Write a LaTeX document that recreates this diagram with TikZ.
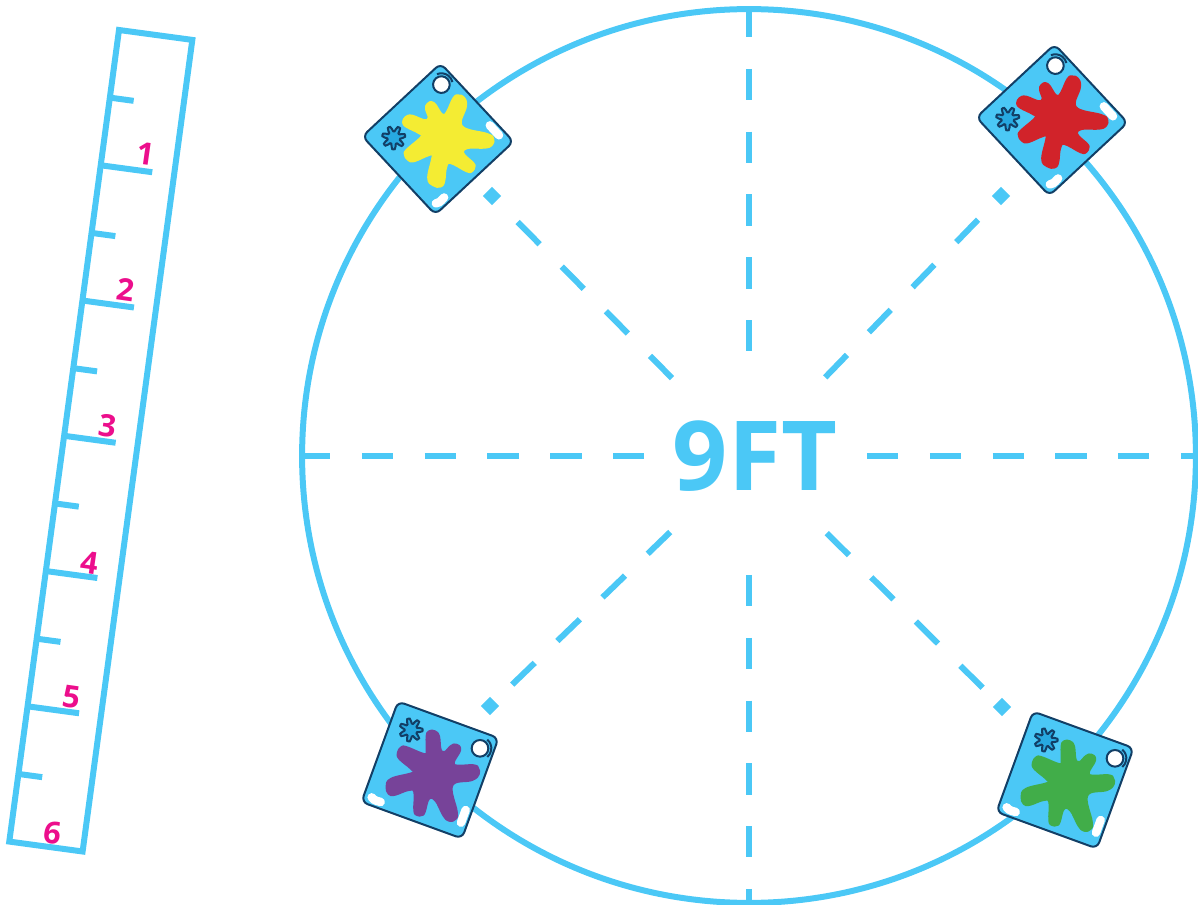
\documentclass[tikz,border=0pt]{standalone}
\usepackage{fontspec}
\setmainfont{Open Sans}
\usepackage{xcolor}
\definecolor{matblue}{HTML}{4BC8F6}
\definecolor{inkblue}{HTML}{123F66}
\definecolor{starblue}{HTML}{27A9E1}
\definecolor{numpink}{HTML}{EC0E8C}
\definecolor{splatyellow}{HTML}{F4EC33}
\definecolor{splatred}{HTML}{D1232A}
\definecolor{splatpurple}{HTML}{774399}
\definecolor{splatgreen}{HTML}{41AD49}
\usetikzlibrary{calc}
\newcommand{\splatmat}[5]{%
  \node[mat, rotate=#4] (#1) at (#2,#3) {};
  \begin{scope}[shift={(#1.center)}, rotate=#4+20, scale=1/3]
    \filldraw[#5, line width=0.07cm, line join=round] plot[smooth cycle, tension=0.7] coordinates {(-2,-114) (14,-114) (25,-100) (30,-60) (45,-52) (64,-70) (78,-74) (88,-60) (70,-15) (130,-12) (142,-4) (144,12) (125,28) (65,45) (78,125) (75,145) (58,150) (42,135) (18,90) (-5,85) (-18,125) (-25,133) (-38,133) (-45,120) (-45,65) (-65,58) (-105,72) (-122,70) (-128,50) (-115,28) (-50,10) (-55,-5) (-90,-35) (-94,-52) (-85,-66) (-70,-66) (-15,-45) (-8,-60) (-8,-100)};
    \draw[inkblue, fill=starblue, line width=0.04cm] plot[smooth, samples=57, domain=0:360] ({-57+(27+8*min(1,max(-1,1.3*cos(7*\x))))*cos(\x)},{-120+(27+8*min(1,max(-1,1.3*cos(7*\x))))*sin(\x)});
    \draw[inkblue, fill=white, line width=0.04cm] (150,-65) circle (25);
    \draw[inkblue, line width=0.04cm] (150,-65) ++(-50:34) arc (-50:50:34);
    \draw[shine] (-175,82) .. controls (-165,95) and (-155,92) .. (-148,96);
    \draw[shine] (107,120) -- (93,158);
  \end{scope}
}
\begin{document}
\begin{tikzpicture}[
  x=0.02cm, y=-0.02cm,
  outline/.style={draw=matblue, line width=0.12cm},
  spoke/.style={draw=matblue, line width=0.12cm, dash pattern=on 0.626cm off 0.63cm},
  spokeend/.style={fill=matblue, rotate=45, minimum size=0.26cm, inner sep=0pt},
  mat/.style={draw=inkblue, fill=matblue, line width=0.04cm, rounded corners=0.13cm,
              minimum width=2.14cm, minimum height=2.14cm, inner sep=0pt},
  shine/.style={draw=white, line width=0.17cm, line cap=round},
  tick/.style={draw=matblue, line width=0.12cm},
  num/.style={font=\fontsize{17.5}{18}\selectfont\bfseries, text=numpink, rotate=-8, inner sep=0pt}
]
\useasboundingbox (0,0) rectangle (1198,905);
\node[circle, outline, minimum size=17.88cm, inner sep=0pt] (ring) at (749,456) {};
\splatmat{yellowmat}{438}{139}{43}{splatyellow}
\splatmat{redmat}{1052}{120}{43}{splatred}
\splatmat{purplemat}{430}{770}{-20}{splatpurple}
\splatmat{greenmat}{1065}{780}{-20}{splatgreen}
\node[spokeend] (yellowend) at (492,196) {};
\node[spokeend] (redend) at (1001,196) {};
\node[spokeend] (purpleend) at (490,706) {};
\node[spokeend] (greenend) at (1002,707) {};
% spokes
\draw[spoke, shorten >=2.1cm] (ring.north) -- (ring.center);
\draw[spoke, shorten >=2.08cm] (ring.west) -- (ring.center);
\draw[spoke, shorten <=2.38cm] (ring.center) -- (ring.south);
\draw[spoke, shorten <=2.36cm] (ring.center) -- (ring.east);
\foreach \e in {yellowend,redend,purpleend,greenend}
  \draw[spoke, shorten <=2.19cm] (ring.center) -- (\e.center);
\node[font=\fontsize{55}{56}\selectfont\bfseries, text=matblue, inner sep=0pt] (ninefeet) at (755,456) {9FT};
% ruler
\begin{scope}[shift={(119,30)}, rotate=-7.7]
  \draw[outline] (0,0) rectangle (74,819);
  \foreach \k in {1,3,...,11}
    \draw[tick] (0,68.25*\k) -- ++(24,0);
  \foreach \k in {2,4,...,10}
    \draw[tick] (0,68.25*\k) -- ++(52,0);
\end{scope}
\foreach \n/\px/\py in {1/146/154, 2/126/290, 3/108/426, 4/90/563, 5/72/697, 6/53/833}
  \node[num] (mark\n) at (\px,\py) {\n};
\end{tikzpicture}
\end{document}
